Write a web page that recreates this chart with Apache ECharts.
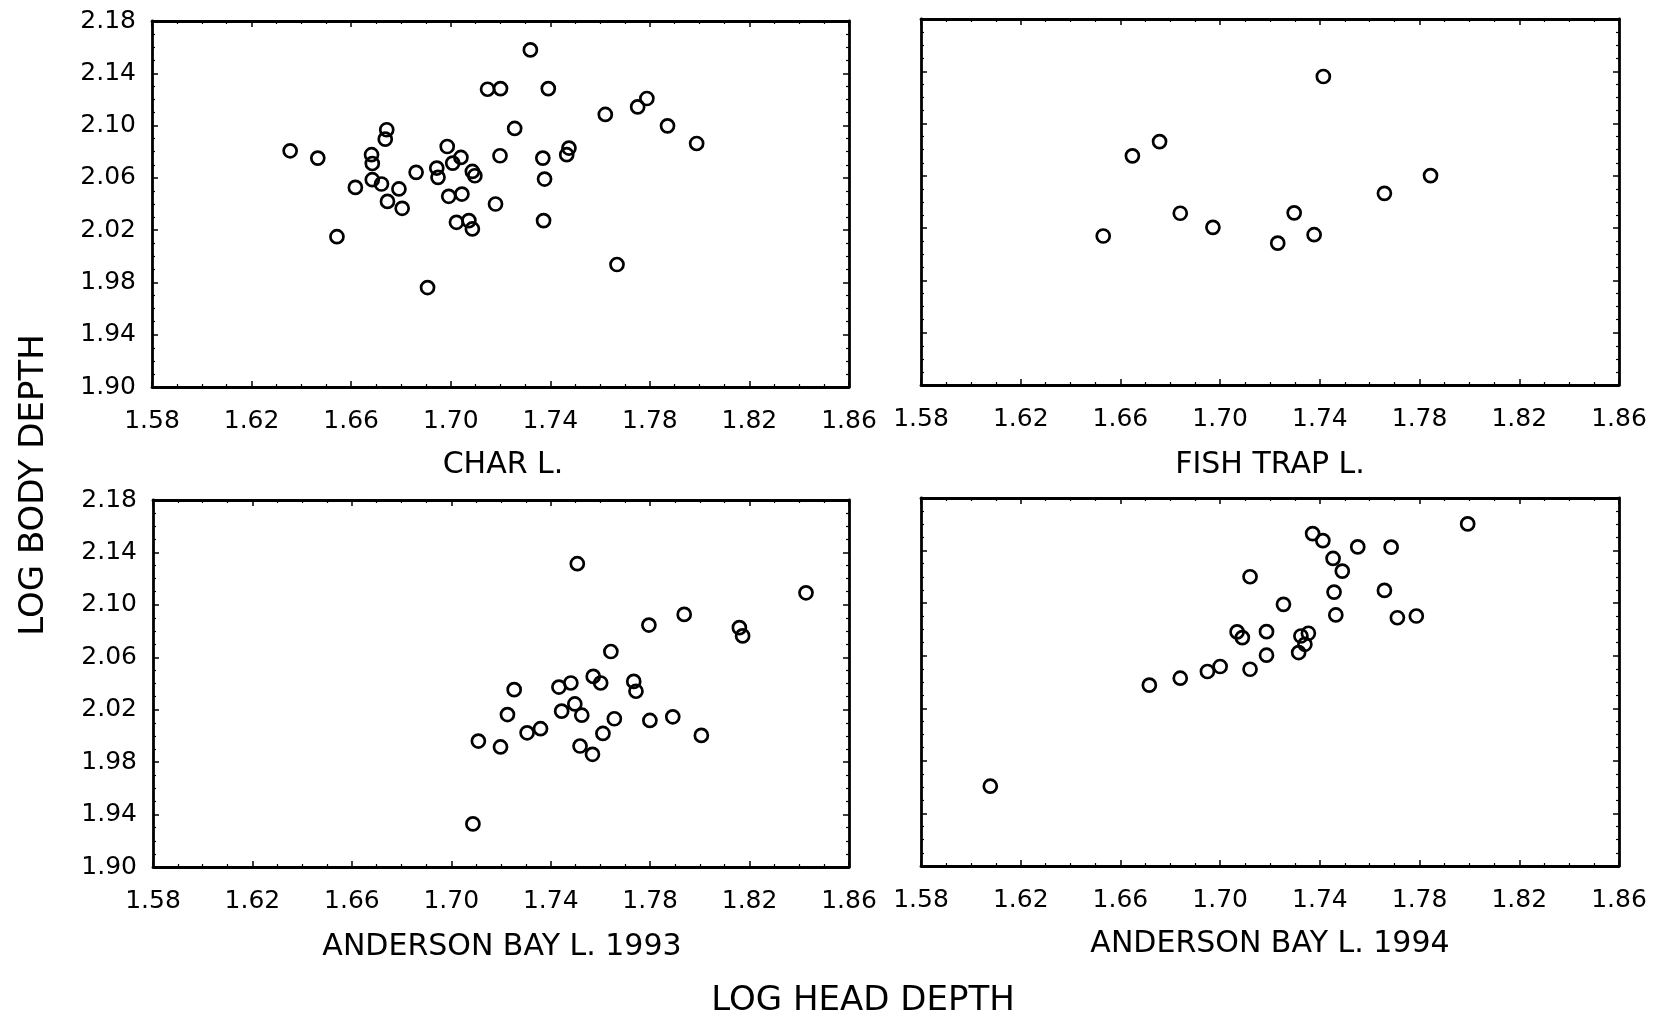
<!DOCTYPE html>
<html>
<head>
<meta charset="utf-8">
<script src="https://cdn.jsdelivr.net/npm/echarts@6/dist/echarts.min.js"></script>
<style>
html,body{margin:0;padding:0;background:#fff;}
#chart{width:1663px;height:1018px;}
</style>
</head>
<body>
<div id="chart"></div>
<script>
// ---- tick labels ----
const X_TICKS = [1.58, 1.62, 1.66, 1.70, 1.74, 1.78, 1.82, 1.86];
const Y_TICKS = [1.90, 1.94, 1.98, 2.02, 2.06, 2.10, 2.14, 2.18];

// ---- panel titles / axis names ----
const PANEL_TITLES = ['CHAR L.', 'FISH TRAP L.', 'ANDERSON BAY L. 1993', 'ANDERSON BAY L. 1994'];
const X_NAME = 'LOG HEAD DEPTH';
const Y_NAME = 'LOG BODY DEPTH';

// ---- data: CHAR L. ----
const charX = [1.6355,1.6466,1.6543,1.6617,1.6682,1.6685,1.6685,1.6722,1.6737,1.6743,1.6746,1.6792,1.6805,1.6861,1.6907,1.6944,1.6949,1.6986,1.6992,1.7008,1.7041,1.7045,1.7023,1.7073,1.7087,1.7097,1.7087,1.7148,1.7200,1.7180,1.7198,1.7257,1.7320,1.7370,1.7377,1.7373,1.7392,1.7466,1.7475,1.7621,1.7668,1.7751,1.7788,1.7871,1.7988];
const charY = [2.0807,2.0751,2.0150,2.0527,2.0777,2.0710,2.0586,2.0553,2.0896,2.0968,2.0420,2.0515,2.0367,2.0642,1.9761,2.0675,2.0604,2.0840,2.0459,2.0713,2.0756,2.0476,2.0260,2.0273,2.0649,2.0616,2.0209,2.1278,2.1283,2.0400,2.0769,2.0978,2.1579,2.0751,2.0591,2.0273,2.1283,2.0777,2.0828,2.1085,1.9937,2.1143,2.1207,2.0998,2.0863];

// ---- data: FISH TRAP L. ----
const fishX = [1.6531,1.6648,1.6757,1.6840,1.6971,1.7231,1.7297,1.7377,1.7414,1.7659,1.7844];
const fishY = [2.0140,2.0753,2.0862,2.0314,2.0206,2.0085,2.0317,2.0150,2.1360,2.0466,2.0602];

// ---- data: ANDERSON BAY L. 1993 ----
const ab93X = [1.7087,1.7109,1.7198,1.7226,1.7253,1.7305,1.7359,1.7433,1.7444,1.7481,1.7497,1.7507,1.7518,1.7525,1.7568,1.7571,1.7601,1.7610,1.7642,1.7656,1.7734,1.7743,1.7795,1.7799,1.7891,1.7937,1.8006,1.8159,1.8172,1.8427];
const ab93Y = [1.9329,1.9961,1.9916,2.0163,2.0353,2.0024,2.0055,2.0373,2.0189,2.0404,2.0244,2.1314,1.9923,2.0158,1.9860,2.0454,2.0404,2.0019,2.0644,2.0131,2.0416,2.0341,2.0846,2.0118,2.0146,2.0927,2.0004,2.0826,2.0763,2.1092];

// ---- data: ANDERSON BAY L. 1994 ----
const ab94X = [1.6078,1.6716,1.6840,1.6949,1.7000,1.7068,1.7089,1.7120,1.7120,1.7186,1.7186,1.7254,1.7315,1.7324,1.7340,1.7354,1.7371,1.7412,1.7453,1.7457,1.7464,1.7490,1.7552,1.7659,1.7686,1.7711,1.7787,1.7993];
const ab94Y = [1.9607,2.0376,2.0429,2.0480,2.0518,2.0781,2.0738,2.1201,2.0497,2.0783,2.0604,2.0991,2.0624,2.0750,2.0687,2.0771,2.1529,2.1476,2.1340,2.1084,2.0910,2.1244,2.1428,2.1097,2.1426,2.0889,2.0902,2.1603];

const PANELS_X = [charX, fishX, ab93X, ab94X];
const PANELS_Y = [charY, fishY, ab93Y, ab94Y];

const FONT = 'DejaVu Sans';
const chart = echarts.init(document.getElementById('chart'), null, {renderer: 'canvas'});

const grids = [
  {left: 152, top: 21, width: 697, height: 366},
  {left: 921, top: 19, width: 698, height: 366},
  {left: 153, top: 500, width: 696, height: 367},
  {left: 921, top: 498, width: 698, height: 368}
];

const xStep = +(X_TICKS[1] - X_TICKS[0]).toFixed(4);
const yStep = +(Y_TICKS[1] - Y_TICKS[0]).toFixed(4);

function axisCommon(showLabel, margin) {
  return {
    type: 'value',
    scale: true,
    axisLine: {show: true, onZero: false, lineStyle: {color: '#000', width: 2.8}},
    axisTick: {show: true, inside: true, length: 6, lineStyle: {color: '#000', width: 1.5}},
    minorTick: {show: true, splitNumber: 4, length: 3, lineStyle: {color: '#000', width: 1.2}},
    splitLine: {show: false},
    minorSplitLine: {show: false},
    axisLabel: {
      show: showLabel, margin: margin, color: '#000', fontFamily: FONT, fontSize: 25,
      formatter: v => v.toFixed(2)
    }
  };
}

const xAxes = [], yAxes = [], series = [];
grids.forEach((g, gi) => {
  xAxes.push(Object.assign(axisCommon(true, 22), {
    gridIndex: gi, position: 'bottom',
    min: X_TICKS[0], max: X_TICKS[X_TICKS.length - 1], interval: xStep
  }));
  xAxes.push(Object.assign(axisCommon(false, 0), {
    gridIndex: gi, position: 'top',
    min: X_TICKS[0], max: X_TICKS[X_TICKS.length - 1], interval: xStep
  }));
  const leftLabels = (gi === 0 || gi === 2);
  yAxes.push(Object.assign(axisCommon(leftLabels, 16), {
    gridIndex: gi, position: 'left',
    min: Y_TICKS[0], max: Y_TICKS[Y_TICKS.length - 1], interval: yStep
  }));
  yAxes.push(Object.assign(axisCommon(false, 0), {
    gridIndex: gi, position: 'right',
    min: Y_TICKS[0], max: Y_TICKS[Y_TICKS.length - 1], interval: yStep
  }));
  series.push({
    type: 'scatter',
    xAxisIndex: gi * 2,
    yAxisIndex: gi * 2,
    symbol: 'circle',
    symbolSize: 13,
    itemStyle: {color: 'rgba(0,0,0,0)', borderColor: '#000', borderWidth: 2.7, opacity: 1},
    data: PANELS_X[gi].map((x, i) => [x, PANELS_Y[gi][i]]),
    silent: true
  });
});

const titlePos = [[503, 465], [1270, 465], [502, 947], [1270, 944]];
const graphics = PANEL_TITLES.map((t, i) => ({
  type: 'text', x: titlePos[i][0], y: titlePos[i][1],
  style: {text: t, fill: '#000', font: '30px "' + FONT + '"', textAlign: 'center', textVerticalAlign: 'middle'}
}));
graphics.push({
  type: 'text', x: 863, y: 1001,
  style: {text: X_NAME, fill: '#000', font: '34px "' + FONT + '"', textAlign: 'center', textVerticalAlign: 'middle'}
});
graphics.push({
  type: 'text', x: 34, y: 485, rotation: Math.PI / 2,
  style: {text: Y_NAME, fill: '#000', font: '34px "' + FONT + '"', textAlign: 'center', textVerticalAlign: 'middle'}
});

chart.setOption({
  backgroundColor: '#fff',
  animation: false,
  grid: grids,
  xAxis: xAxes,
  yAxis: yAxes,
  series: series,
  graphic: graphics
});
</script>
</body>
</html>
